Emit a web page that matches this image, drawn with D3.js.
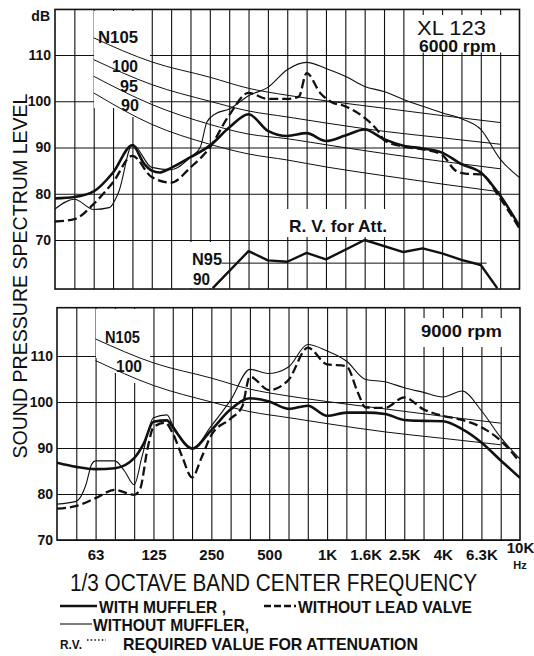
<!DOCTYPE html>
<html>
<head>
<meta charset="utf-8">
<script src="https://d3js.org/d3.v7.min.js"></script>
<style>
  body { margin: 0; background: #fff; }
  svg { display: block; font-family: "Liberation Sans", Arial, sans-serif; }
</style>
</head>
<body>
<svg id="chart" width="534" height="656"></svg>
<script>
// 1/3 octave band centres, 40 Hz .. 10 kHz (band index 0..24)
var bands = ['40','50','63','80','100','125','160','200','250','315','400','500','630',
             '800','1K','1.25K','1.6K','2K','2.5K','3.15K','4K','5K','6.3K','8K','10K'];
var tickBands = ['63','125','250','500','1K','1.6K','2.5K','4K','6.3K','10K'];
var dbTicks = [70, 80, 90, 100, 110];

// N-curves, [band index, dB]
var n105 = [[2,113.7],[5,108.5],[8,105.2],[10,102.8],[12,101.3],[14,100.1],[17,98.5],[20,96.9],[23,95.4]];
var n100 = [[2,109],[5,103.6],[8,100],[10,97.9],[12,96.6],[14,95.3],[17,93.5],[20,92.1],[23,90.7]];
var n95  = [[2,105.4],[5,99.3],[8,95],[10,92.9],[12,91.9],[14,90.6],[17,88.7],[20,87],[23,85.4]];
var n90  = [[2,101.8],[5,95],[8,90.7],[10,88.6],[12,87.3],[14,85.8],[17,83.9],[20,82.1],[23,80.4]];

// 6000 rpm
var with6000 = [[0,79],[1,79.3],[2,80.5],[3,84.6],[4,90.5],[4.6,86.5],[5,85],[5.4,84.6],[6,85.6],[7,87.9],
  [8,90.4],[9,94.3],[10,97.2],[11,93.6],[12,92.5],[13,93.1],[14,91.4],[15,92.6],[16,93.9],[17,91.8],
  [18,90.4],[19,89.8],[20,88.9],[21,86.4],[22,84.6],[23,79.6],[24,73]];
var noLead6000 = [[0,74],[1,74.5],[2,77.8],[3,82.5],[4,88.2],[5,83.6],[6,82.4],[7,85.7],[8,90],[9,97],
  [10,101.8],[11,100.5],[12,100.5],[12.6,101],[13,106.1],[13.7,101.8],[14.3,99.8],[15,98.9],[16,96.4],
  [16.7,93.5],[17,91.6],[18,90.2],[19,89.6],[20,88.4],[20.7,85],[21.3,84.3],[22,84.2],[23,79],[24,72.5]];
var without6000 = [[0,76.7],[1,78.8],[2,76.6],[2.8,77],[3.3,80.5],[4,90.7],[5,85.7],[6,85.2],[7,87.9],
  [7.5,90],[7.85,95.5],[8.3,97.3],[9,98.3],[10,101.2],[11,103],[12,106.8],[13,108.4],[14,107.1],[15,105.4],
  [16,103.2],[17,102.1],[18,100.4],[19,98.9],[20,97.5],[21,96.2],[22,93.9],[23,87.5],[24,83.5]];
// required value for attenuation (6000 rpm)
var rv6000 = [[8.15,59.6],[10,67.6],[11,65.6],[12,65.3],[13,67.2],[14,65.8],[16,70],[18,67.4],
  [19,68.2],[20,67.1],[21,65.7],[22,64.6],[22.85,59.6]];
var rvN95 = [[8.6,65],[22.3,65]];

// 9000 rpm
var with9000 = [[0,86.8],[1,85.9],[2,85.4],[3,85.6],[4,87.8],[4.5,91],[5,95.7],[5.7,96],[6,94.5],[7,89.9],
  [8,93.9],[9,98.4],[10,100.8],[11,100.1],[12,98.5],[13,99.2],[14,97],[15,97.7],[16,97.7],[17,97.4],
  [18,96.1],[19,95.9],[20,95.8],[21,94.1],[22,91.2],[23,87.3],[24,83.5]];
var noLead9000 = [[0,76.8],[1,77.4],[2,79.1],[3,80.9],[4,79.8],[4.3,81],[4.7,90],[5,94.5],[5.6,95.5],
  [6,93.2],[6.5,88],[7,83.6],[7.5,88],[8,92.8],[9,96.4],[9.6,99],[10,105.5],[11,102.6],[12,104.8],
  [13,111.8],[14,108.2],[15,107.8],[15.6,102],[16,98.8],[17,98.7],[18,101],[19,98.4],[20,97],[21,96.1],
  [22,94.5],[23,91.6],[24,86.9]];
var without9000 = [[0,77.8],[1,78.4],[1.5,82],[1.8,86.5],[2,87.2],[3,87.2],[3.5,85],[4,82],[4.4,88],
  [5,96.6],[5.7,97.2],[6,95],[7,89.8],[8,94.8],[9,100.4],[10,107.1],[11,106.2],[12,107.6],[13,112.5],
  [14,111.1],[15,108.9],[16,104.9],[17,104.4],[18,103.1],[19,102.1],[20,101.1],[21,102.4],[22,98.1],
  [23,92.3],[24,87.6]];

var INK = '#111';
var styles = {
  withM:   { w: 2.6, dash: null },
  noLead:  { w: 2.3, dash: '9,4' },
  without: { w: 1.1, dash: null },
  nCurve:  { w: 1.0, dash: null },
  rv:      { w: 2.4, dash: null }
};

var svg = d3.select('#chart');

function drawPanel(p) {
  var x = p.x, y = p.y;
  var x0 = x(0), x1 = x(24), yb = y(p.dbMin), yt = y(p.dbMax);
  var g = svg.append('g').attr('class', 'panel-' + p.id);

  svg.append('clipPath').attr('id', 'clip-' + p.id)
    .append('rect').attr('x', x0).attr('y', yt).attr('width', x1 - x0).attr('height', yb - yt);

  // vertical grid, one line per band
  var vGrid = g.append('g').attr('transform', 'translate(0,' + yb + ')')
    .call(d3.axisBottom(x).tickValues(d3.range(1, 24)).tickSize(-(yb - yt)).tickFormat(''));
  vGrid.select('.domain').remove();
  vGrid.selectAll('line').attr('stroke', INK).attr('stroke-width', 1.1);

  // horizontal grid + dB labels
  var yAxis = g.append('g').attr('transform', 'translate(' + x0 + ',0)')
    .call(d3.axisLeft(y).tickValues(dbTicks).tickSize(-(x1 - x0)).tickPadding(4));
  yAxis.select('.domain').remove();
  yAxis.selectAll('line').attr('stroke', INK).attr('stroke-width', 1.1);
  yAxis.selectAll('text').attr('font-size', 14).attr('font-weight', 'bold').attr('fill', INK)
    .attr('font-family', '"Liberation Sans", Arial, sans-serif');

  // blank areas behind the lettering
  g.append('g').selectAll('rect').data(p.blanks).join('rect')
    .attr('x', d => d[0]).attr('y', d => d[1]).attr('width', d => d[2]).attr('height', d => d[3])
    .attr('fill', '#fff');

  // frame
  g.append('rect').attr('x', x0).attr('y', yt).attr('width', x1 - x0).attr('height', yb - yt)
    .attr('fill', 'none').attr('stroke', INK).attr('stroke-width', 1.6);

  var smooth = d3.line().x(d => x(d[0])).y(d => y(d[1])).curve(d3.curveMonotoneX);
  var straight = d3.line().x(d => x(d[0])).y(d => y(d[1]));

  var lines = g.append('g').attr('clip-path', 'url(#clip-' + p.id + ')');
  p.series.forEach(function(s) {
    var st = styles[s.style];
    lines.append('path')
      .attr('d', (s.linear ? straight : smooth)(s.data))
      .attr('fill', 'none').attr('stroke', INK)
      .attr('stroke-width', st.w)
      .attr('stroke-dasharray', st.dash)
      .attr('stroke-linejoin', 'round');
  });

  g.append('g').selectAll('text').data(p.labels).join('text')
    .attr('x', d => d.x).attr('y', d => d.y)
    .attr('text-anchor', d => d.anchor || 'start')
    .attr('font-size', d => d.size).attr('font-weight', d => d.weight || 'bold')
    .attr('textLength', d => d.len || null)
    .attr('lengthAdjust', 'spacingAndGlyphs')
    .attr('fill', INK)
    .text(d => d.t);

  return p;
}

var topPanel = drawPanel({
  id: 'top',
  x: d3.scaleLinear().domain([0, 24]).range([55, 519.5]),
  y: d3.scaleLinear().domain([70, 110]).range([240, 55]),
  dbMin: 59.4, dbMax: 119.85,
  blanks: [[94, 11, 56, 97], [120, 106, 20, 11], [405, 15, 113, 37.5], [287, 209, 102, 28], [189, 242, 33, 46]],
  series: [
    { data: n105, style: 'nCurve' }, { data: n100, style: 'nCurve' },
    { data: n95, style: 'nCurve' }, { data: n90, style: 'nCurve' },
    { data: rvN95, style: 'nCurve', linear: true },
    { data: without6000, style: 'without' },
    { data: noLead6000, style: 'noLead' },
    { data: with6000, style: 'withM' },
    { data: rv6000, style: 'rv', linear: true }
  ],
  labels: [
    { t: 'dB', x: 50, y: 21, size: 14, anchor: 'end' },
    { t: 'N105', x: 138, y: 43, size: 17, anchor: 'end', len: 40 },
    { t: '100', x: 138, y: 72, size: 17, anchor: 'end', len: 26 },
    { t: '95', x: 138, y: 92, size: 17, anchor: 'end', len: 18 },
    { t: '90', x: 139, y: 111, size: 17, anchor: 'end', len: 18 },
    { t: 'XL 123', x: 417, y: 35, size: 20, weight: 'normal', len: 69 },
    { t: '6000 rpm', x: 419, y: 52, size: 17, len: 77 },
    { t: 'R. V.  for Att.', x: 289, y: 232, size: 17, len: 98 },
    { t: 'N95', x: 192, y: 265, size: 16, len: 30 },
    { t: '90', x: 193, y: 285, size: 16, len: 17 }
  ]
});

var botPanel = drawPanel({
  id: 'bot',
  x: d3.scaleLinear().domain([0, 24]).range([57, 520]),
  y: d3.scaleLinear().domain([70, 110]).range([540, 356]),
  dbMin: 70, dbMax: 120.5,
  blanks: [[96, 309, 54, 49], [108, 357, 12, 16], [128, 357, 12, 26], [407, 318, 112, 29]],
  series: [
    { data: n105, style: 'nCurve' }, { data: n100, style: 'nCurve' },
    { data: without9000, style: 'without' },
    { data: noLead9000, style: 'noLead' },
    { data: with9000, style: 'withM' }
  ],
  labels: [
    { t: 'N105', x: 140, y: 343, size: 17, anchor: 'end', len: 35 },
    { t: '100', x: 142, y: 372, size: 17, anchor: 'end', len: 26 },
    { t: '9000 rpm', x: 421, y: 337, size: 17, len: 81 }
  ]
});

// frequency axis under the lower panel
var xb = botPanel.x;
var xAxis = svg.append('g').attr('transform', 'translate(0,540)')
  .call(d3.axisBottom(xb).tickValues(tickBands.map(b => bands.indexOf(b)))
    .tickFormat(i => bands[i]).tickSize(0).tickPadding(9));
xAxis.select('.domain').remove();
xAxis.selectAll('text').attr('font-size', 15).attr('font-weight', 'bold').attr('fill', INK)
  .attr('font-family', '"Liberation Sans", Arial, sans-serif');
xAxis.selectAll('.tick').filter(i => bands[i] === '10K').select('text').attr('y', 2);
svg.append('text').attr('x', xb(24)).attr('y', 569).attr('text-anchor', 'middle')
  .attr('font-size', 11).attr('font-weight', 'bold').attr('fill', INK).text('Hz');

// axis titles
svg.append('text').attr('x', 70).attr('y', 591).attr('font-size', 23).attr('fill', INK)
  .attr('textLength', 407).attr('lengthAdjust', 'spacingAndGlyphs')
  .text('1/3 OCTAVE BAND CENTER FREQUENCY');
svg.append('text').attr('transform', 'translate(27,276) rotate(-90)').attr('text-anchor', 'middle')
  .attr('font-size', 21).attr('fill', INK)
  .attr('textLength', 365).attr('lengthAdjust', 'spacingAndGlyphs')
  .text('SOUND PRESSURE SPECTRUM LEVEL');

// legend
var legend = svg.append('g');
var legendRows = [
  { style: 'withM', x1: 60, x2: 97, y: 606, t: 'WITH MUFFLER ,', tx: 99, ty: 613, len: 127 },
  { style: 'noLead', x1: 264, x2: 296, y: 606, t: 'WITHOUT LEAD VALVE', tx: 298, ty: 613, len: 174 },
  { style: 'without', x1: 60, x2: 92, y: 624, t: 'WITHOUT MUFFLER,', tx: 93, ty: 631, len: 156 }
];
legendRows.forEach(function(r) {
  var st = styles[r.style];
  legend.append('line').attr('x1', r.x1).attr('x2', r.x2).attr('y1', r.y).attr('y2', r.y)
    .attr('stroke', INK).attr('stroke-width', st.w).attr('stroke-dasharray', st.dash ? '7,3' : null);
  legend.append('text').attr('x', r.tx).attr('y', r.ty).attr('font-size', 17).attr('font-weight', 'bold')
    .attr('fill', INK).attr('textLength', r.len).attr('lengthAdjust', 'spacingAndGlyphs').text(r.t);
});
legend.append('text').attr('x', 60).attr('y', 649).attr('font-size', 13).attr('font-weight', 'bold')
  .attr('fill', INK).attr('textLength', 22).attr('lengthAdjust', 'spacingAndGlyphs').text('R.V.');
legend.append('line').attr('x1', 87).attr('x2', 106).attr('y1', 640).attr('y2', 640)
  .attr('stroke', INK).attr('stroke-width', 1.6).attr('stroke-dasharray', '1.5,2.2');
legend.append('text').attr('x', 123).attr('y', 650).attr('font-size', 17).attr('font-weight', 'bold')
  .attr('fill', INK).attr('textLength', 295).attr('lengthAdjust', 'spacingAndGlyphs')
  .text('REQUIRED VALUE  FOR  ATTENUATION');
</script>
</body>
</html>
